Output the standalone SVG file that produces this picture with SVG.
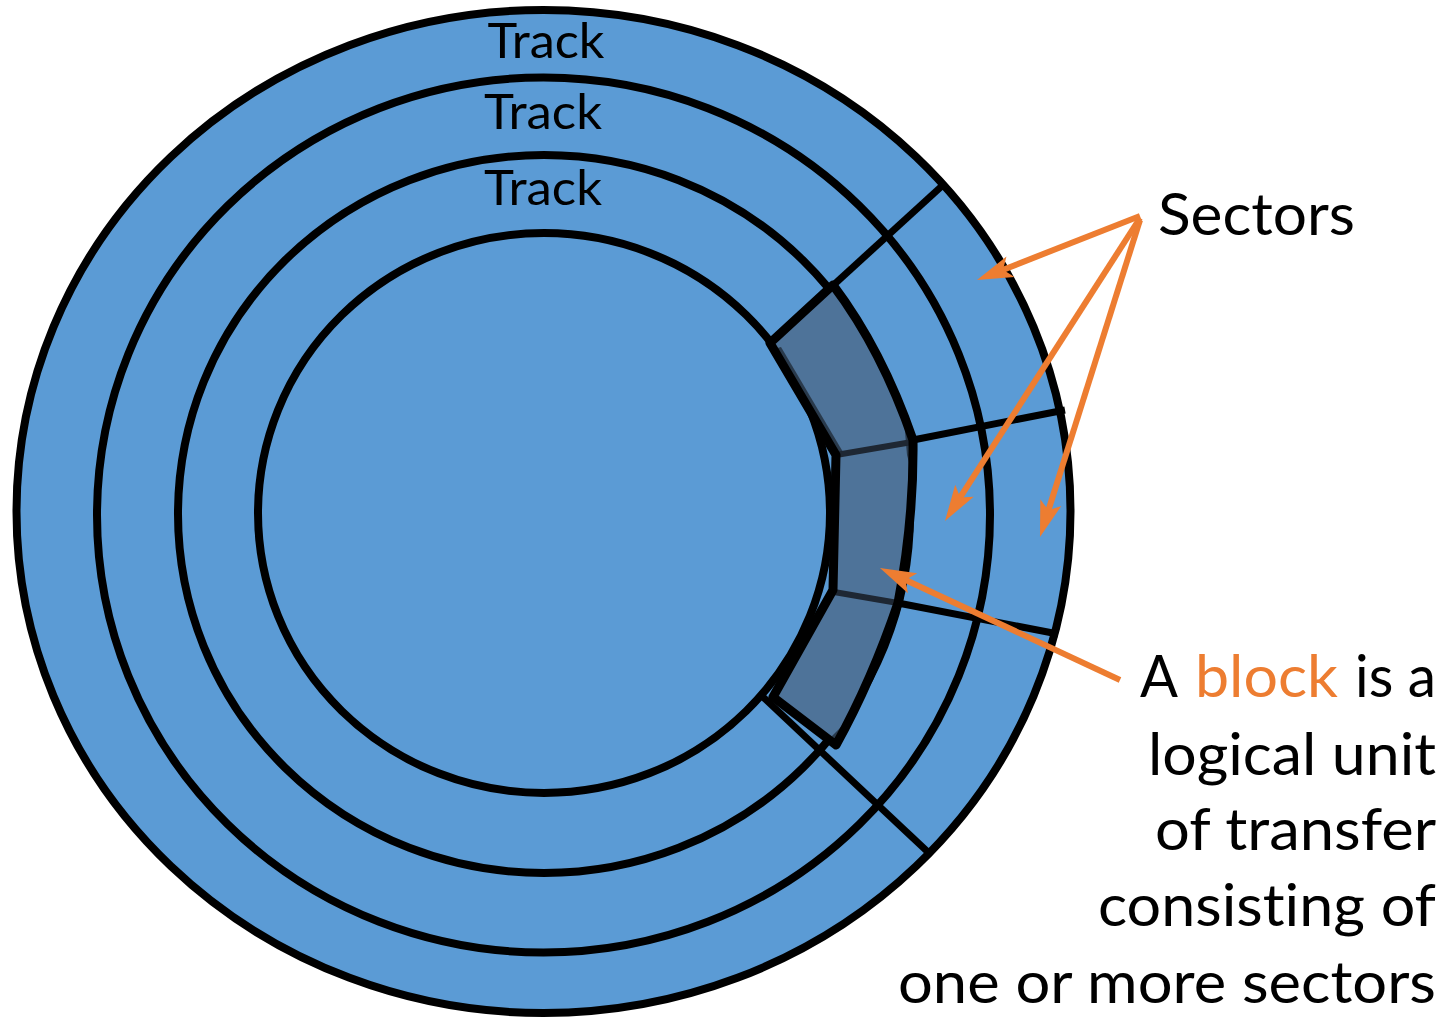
<svg xmlns="http://www.w3.org/2000/svg" width="1456" height="1019" viewBox="0 0 1456 1019">
  <defs>
    <style>
      .disk{fill:#5B9BD5;stroke:#000;stroke-width:8}
      .sep{stroke:#000;stroke-width:7;fill:none}
      .blk{fill:#4E7399;stroke:none}
      .shade{fill:#1E2733;opacity:0.75}
      .blk-edge{fill:none;stroke:#000;stroke-width:9;stroke-linejoin:round}
      .div{stroke:#1E2733;stroke-width:6}
      .arrow{stroke:#ED7D31;stroke-width:6;fill:none;marker-end:url(#ah)}
      .lbl{font-family:Lato,"Liberation Sans",sans-serif;fill:#000;font-variant-ligatures:none;font-feature-settings:"liga" 0}
      .hl{fill:#ED7D31}
    </style>
    <marker id="ah" markerUnits="userSpaceOnUse" viewBox="-20 -14 42 28" refX="0" refY="0" markerWidth="42" markerHeight="28" orient="auto">
      <path d="M20,0 L-16,-11 L-8,0 L-16,11 Z" fill="#ED7D31"/>
    </marker>
  </defs>

  <!-- platter with its tracks -->
  <g id="platter">
    <ellipse class="disk" cx="543.5" cy="511.5" rx="527" ry="501.5"/>
    <ellipse class="disk" cx="543.5" cy="515" rx="446.5" ry="437.5"/>
    <ellipse class="disk" cx="544" cy="514" rx="366" ry="359"/>
    <ellipse class="disk" cx="544" cy="513" rx="286" ry="280"/>
  </g>

  <!-- sector boundaries -->
  <g id="sector-lines">
    <line class="sep" x1="943" y1="185" x2="770" y2="343"/>
    <line class="sep" x1="930" y1="854" x2="763" y2="697"/>
    <line class="sep" x1="1065" y1="410" x2="913" y2="440"/>
    <line class="sep" x1="1058" y1="634" x2="898" y2="603"/>
  </g>

  <!-- block spanning three sectors of the inner track -->
  <g id="block">
    <path class="blk" d="M770,343 L833,285 Q882,350 913,440 Q914,520 898,603 Q872,680 836,745 L773,697 L833,590 L836,455 Z"/>
    <path class="shade" d="M774,349 L836,455 L843,452 L781,347 Z"/>
    <path class="shade" d="M904,420 L913,440 L911,470 L907,455 Z"/>
    <path class="shade" d="M846,722 L836,745 L828,740 Z"/>
    <line class="div" x1="836" y1="455" x2="912" y2="442"/>
    <line class="div" x1="834" y1="592" x2="898" y2="603"/>
    <path class="blk-edge" d="M770,343 L833,285 Q882,350 913,440 Q914,520 898,603 Q872,680 836,745 L773,697 L833,590 L836,455 Z"/>
  </g>

  <!-- callout arrows -->
  <g id="connectors">
    <line class="arrow" x1="1140" y1="216" x2="995.6" y2="272.7"/>
    <line class="arrow" x1="1140" y1="218" x2="955.8" y2="504.2"/>
    <line class="arrow" x1="1140" y1="220" x2="1046" y2="517.9"/>
    <line class="arrow" x1="1120" y1="680" x2="898.1" y2="576.5"/>
  </g>

  <!-- track labels -->
  <g id="track-labels" class="lbl" font-size="48.5" text-anchor="middle">
    <text x="546" y="58" textLength="117" lengthAdjust="spacingAndGlyphs">Track</text>
    <text x="543" y="129" textLength="118" lengthAdjust="spacingAndGlyphs">Track</text>
    <text x="543" y="205" textLength="118" lengthAdjust="spacingAndGlyphs">Track</text>
  </g>

  <g id="sectors-label" class="lbl" font-size="59">
    <text x="1158" y="235" textLength="197" lengthAdjust="spacingAndGlyphs">Sectors</text>
  </g>

  <g id="block-label" class="lbl" font-size="59">
    <text x="1140" y="697" textLength="38" lengthAdjust="spacingAndGlyphs">A</text>
    <text class="hl" x="1195" y="697" textLength="143" lengthAdjust="spacingAndGlyphs">block</text>
    <text x="1355" y="697" textLength="81" lengthAdjust="spacingAndGlyphs">is a</text>
    <text x="1148" y="775" textLength="288" lengthAdjust="spacingAndGlyphs">logical unit</text>
    <text x="1155" y="850" textLength="281" lengthAdjust="spacingAndGlyphs">of transfer</text>
    <text x="1098" y="926" textLength="338" lengthAdjust="spacingAndGlyphs">consisting of</text>
    <text x="898" y="1003" textLength="538" lengthAdjust="spacingAndGlyphs">one or more sectors</text>
  </g>
</svg>
